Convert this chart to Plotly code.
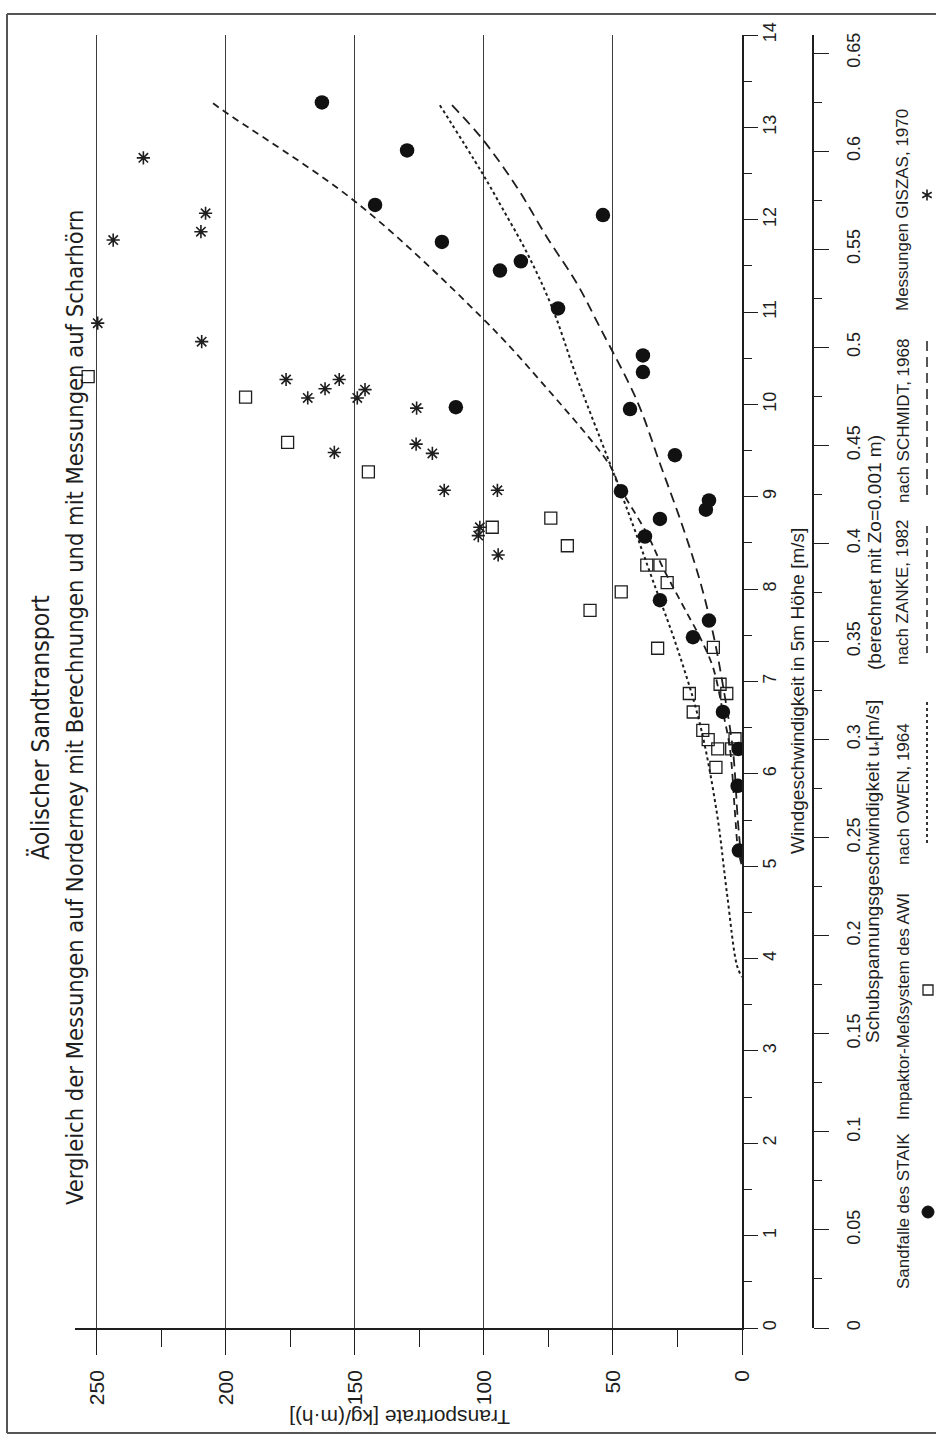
import plotly.graph_objects as go

# ---------------- data ----------------
# Sandfalle des STAIK (filled circles): transport rate [kg/(m h)], wind speed [m/s]
staik_rate = [162.8, 129.8, 142.2, 53.9, 116.3, 93.8, 85.7, 71.3, 38.4, 38.4, 110.9, 43.4, 26.0,
              46.9, 12.8, 14.0, 31.8, 37.6, 31.8, 12.8, 19.0, 7.4, 1.3, 1.7, 1.2]
staik_wind = [13.27, 12.75, 12.16, 12.05, 11.76, 11.45, 11.55, 11.04, 10.53, 10.35, 9.97, 9.95, 9.45,
              9.06, 8.96, 8.86, 8.76, 8.57, 7.88, 7.66, 7.48, 6.67, 6.27, 5.87, 5.17]

# Impaktor-Messsystem des AWI (open squares)
awi_rate = [253.4, 192.4, 176.1, 144.8, 96.8, 74.1, 67.7, 58.9, 46.8, 36.9, 31.8, 29.0, 32.7, 11.1,
            8.5, 5.9, 20.4, 18.9, 15.2, 13.1, 9.4, 4.0, 2.7, 10.1]
awi_wind = [10.30, 10.08, 9.59, 9.27, 8.67, 8.77, 8.47, 7.77, 7.97, 8.26, 8.26, 8.07, 7.36, 7.37,
            6.97, 6.87, 6.87, 6.67, 6.47, 6.37, 6.27, 6.27, 6.38, 6.07]

# Messungen GISZAS 1970 (asterisks)
gis_rate = [232.0, 243.7, 207.9, 209.7, 249.7, 209.4, 176.7, 168.3, 161.6, 156.1, 149.1, 146.1,
            126.1, 126.3, 158.0, 120.0, 115.4, 94.8, 101.6, 102.2, 94.5]
gis_wind = [12.67, 11.78, 12.07, 11.87, 10.88, 10.68, 10.27, 10.07, 10.17, 10.27, 10.07, 10.16,
            9.96, 9.57, 9.48, 9.47, 9.07, 9.07, 8.67, 8.58, 8.37]

# Calculated curves
owen_rate = [117.1, 100.8, 93.0, 83.3, 73.6, 64.0, 51.2, 42.2, 34.5, 25.2, 16.3, 9.7, 5.8, 1.9, 0.0]
owen_wind = [13.24, 12.51, 12.13, 11.64, 11.05, 10.29, 9.36, 8.69, 8.09, 7.37, 6.54, 5.57, 4.70, 3.92, 3.80]

zanke_rate = [205.0, 200.0, 149.6, 100.8, 78.3, 51.2, 47.3, 36.8, 30.6, 21.3, 16.3, 11.2, 7.4, 4.7, 2.7, 1.6, 0.0]
zanke_wind = [13.26, 13.16, 12.19, 10.94, 10.26, 9.34, 9.10, 8.60, 8.23, 7.74, 7.48, 7.15, 6.67, 6.28, 5.57, 5.20, 5.00]

schmidt_rate = [112.4, 100.8, 87.2, 75.6, 64.0, 55.0, 40.7, 31.8, 22.9, 16.3, 11.2, 7.4, 3.5, 1.6, 0.0]
schmidt_wind = [13.24, 12.88, 12.35, 11.81, 11.31, 10.83, 10.04, 9.36, 8.67, 8.09, 7.52, 6.96, 6.25, 5.49, 5.00]

# Axis ticks
rate_ticks = [0, 50, 100, 150, 200, 250]
wind_ticks = list(range(0, 15))
ustar_ticks = [0, 0.05, 0.1, 0.15, 0.2, 0.25, 0.3, 0.35, 0.4, 0.45, 0.5, 0.55, 0.6, 0.65]

# Texts
title1 = "Äolischer Sandtransport"
title2 = "Vergleich der Messungen auf Norderney mit Berechnungen und mit Messungen auf Scharhörn"
rate_title = "Transportrate [kg/(m·h)]"
wind_title = "Windgeschwindigkeit in 5m Höhe [m/s]"
ustar_title = "Schubspannungsgeschwindigkeit u<sub>*</sub>[m/s]"
ustar_note = "(berechnet mit Zo=0.001 m)"
legend_labels = ["Sandfalle des STAIK", "Impaktor-Meßsystem des AWI", "nach OWEN, 1964",
                 "nach ZANKE, 1982", "nach SCHMIDT, 1968", "Messungen GISZAS, 1970"]

# ---------------- layout geometry ----------------
W, H = 936, 1439
ML, MR, MT, MB = 75, 10, 35, 111
PW = W - ML - MR
PH = H - MT - MB


def px(x):
    return (x - ML) / PW


def py(y):
    return (H - MB - y) / PH


INK = "#1e1e1e"
GRID = "#3c3c3c"
FONT = "Liberation Sans, Arial, sans-serif"
TFONT = "Liberation Sans Narrow, DejaVu Sans Condensed, Liberation Sans, sans-serif"

fig = go.Figure()

fig.add_trace(go.Scatter(x=owen_rate, y=owen_wind, mode="lines", line_shape="spline",
                         line=dict(color=INK, width=2, dash="dot"), showlegend=False))
fig.add_trace(go.Scatter(x=zanke_rate, y=zanke_wind, mode="lines", line_shape="spline",
                         line=dict(color=INK, width=1.8, dash="7px,5px"), showlegend=False))
fig.add_trace(go.Scatter(x=schmidt_rate, y=schmidt_wind, mode="lines", line_shape="spline",
                         line=dict(color=INK, width=1.8, dash="10px,6px"), showlegend=False))
fig.add_trace(go.Scatter(x=awi_rate, y=awi_wind, mode="markers",
                         marker=dict(symbol="square-open", size=12, color=INK, line=dict(width=1.3, color=INK)),
                         showlegend=False))
fig.add_trace(go.Scatter(x=gis_rate, y=gis_wind, mode="markers",
                         marker=dict(symbol="asterisk-open", size=11, color=INK, line=dict(width=1.6, color=INK)),
                         showlegend=False))
fig.add_trace(go.Scatter(x=staik_rate, y=staik_wind, mode="markers",
                         marker=dict(symbol="circle", size=14.5, color="#111111"),
                         showlegend=False))
# empty trace so that the secondary (u*) axis is drawn
fig.add_trace(go.Scatter(x=[None], y=[None], yaxis="y2", mode="markers", showlegend=False,
                         hoverinfo="skip"))

fig.update_layout(
    width=W, height=H, template="none",
    paper_bgcolor="white", plot_bgcolor="white",
    margin=dict(l=ML, r=MR, t=MT, b=MB, autoexpand=False),
    showlegend=False,
    xaxis=dict(
        domain=[0, px(742)], range=[258.5, 0], automargin=False,
        tickvals=rate_ticks, ticktext=[str(v) for v in rate_ticks],
        showgrid=True, gridcolor=GRID, gridwidth=1.2, zeroline=False,
        showline=True, linecolor=INK, linewidth=1.5,
        ticks="outside", ticklen=25, tickcolor=INK, tickwidth=1.2,
        minor=dict(ticks="outside", ticklen=17, dtick=25, tick0=0, tickcolor=INK, tickwidth=1.2, showgrid=False),
        tickangle=-90, ticklabelstandoff=7,
        tickfont=dict(family=FONT, size=21, color=INK),
    ),
    yaxis=dict(
        domain=[0, 1], range=[0, 14], side="right", anchor="x", automargin=False,
        tickvals=wind_ticks, ticktext=[str(v) for v in wind_ticks],
        showgrid=False, zeroline=False,
        showline=True, linecolor=INK, linewidth=1.5,
        ticks="outside", ticklen=14, tickcolor=INK, tickwidth=1.3,
        minor=dict(ticks="outside", ticklen=8, dtick=0.5, tick0=0, tickcolor=INK, tickwidth=1.2),
        tickangle=-90, ticklabelstandoff=-3,
        tickfont=dict(family=FONT, size=18, color=INK),
    ),
    yaxis2=dict(
        overlaying="y", anchor="free", position=px(813), side="right", automargin=False,
        range=[0, 1293 / (1275 / 0.65)],
        tickvals=ustar_ticks, ticktext=[("%g" % v) for v in ustar_ticks],
        showgrid=False, zeroline=False,
        showline=True, linecolor=INK, linewidth=1.5,
        ticks="outside", ticklen=15, tickcolor=INK, tickwidth=1.3,
        minor=dict(ticks="outside", ticklen=8, dtick=0.025, tick0=0, tickcolor=INK, tickwidth=1.2),
        tickangle=-90, ticklabelstandoff=10,
        tickfont=dict(family=FONT, size=18, color=INK),
    ),
)

ann = []


def add_text(text, x, y, size, angle=-90, family=FONT):
    ann.append(dict(text=text, x=px(x), y=py(y), xref="paper", yref="paper",
                    showarrow=False, textangle=angle, xanchor="center", yanchor="middle",
                    font=dict(family=family, size=size, color=INK)))


add_text(title1, 40, 728, 24.5, family=TFONT)
add_text(title2, 75, 708, 23.5, family=TFONT)
add_text(rate_title, 400, 1418, 21, angle=180)
add_text(wind_title, 797, 691, 19)
add_text(ustar_title, 874, 872, 19)
add_text(ustar_note, 874, 553, 19)

legend_centers = [1211, 1007, 794, 592, 421, 210]
for lab, yc in zip(legend_labels, legend_centers):
    add_text(lab, 903, yc, 17)

fig.update_layout(annotations=ann)

shapes = []
# legend symbols
shapes.append(dict(type="circle", xref="paper", yref="paper", x0=px(922), x1=px(934),
                   y0=py(1218), y1=py(1206), fillcolor="#111111", line=dict(color="#111111", width=1)))
shapes.append(dict(type="rect", xref="paper", yref="paper", x0=px(923), x1=px(933),
                   y0=py(995), y1=py(985), line=dict(color=INK, width=1.3)))
shapes.append(dict(type="line", xref="paper", yref="paper", x0=px(927), x1=px(927),
                   y0=py(843), y1=py(700), line=dict(color=INK, width=1.8, dash="dot")))
shapes.append(dict(type="line", xref="paper", yref="paper", x0=px(927), x1=px(927),
                   y0=py(653), y1=py(523), line=dict(color=INK, width=1.5, dash="7px,5px")))
shapes.append(dict(type="line", xref="paper", yref="paper", x0=px(927), x1=px(927),
                   y0=py(495), y1=py(337), line=dict(color=INK, width=1.5, dash="10px,6px")))
sx, sy, r = 927, 195, 5.5
star_path = "M {:.5f},{:.5f} L {:.5f},{:.5f} M {:.5f},{:.5f} L {:.5f},{:.5f} M {:.5f},{:.5f} L {:.5f},{:.5f}".format(
    px(sx), py(sy - r), px(sx), py(sy + r),
    px(sx - 0.866 * r), py(sy - 0.5 * r), px(sx + 0.866 * r), py(sy + 0.5 * r),
    px(sx - 0.866 * r), py(sy + 0.5 * r), px(sx + 0.866 * r), py(sy - 0.5 * r))
shapes.append(dict(type="path", xref="paper", yref="paper", path=star_path,
                   line=dict(color=INK, width=1.6)))
# scanned page frame
shapes.append(dict(type="line", xref="paper", yref="paper", x0=px(7), x1=px(7),
                   y0=py(14), y1=py(1433), line=dict(color="#555555", width=2)))
shapes.append(dict(type="line", xref="paper", yref="paper", x0=px(7), x1=px(936),
                   y0=py(14), y1=py(14), line=dict(color="#555555", width=2)))
shapes.append(dict(type="line", xref="paper", yref="paper", x0=px(7), x1=px(936),
                   y0=py(1433), y1=py(1433), line=dict(color="#555555", width=2)))
fig.update_layout(shapes=shapes)

# remove the default page margin so the figure sits at the window's top-left corner
fig.write_html("out.html", config={"displayModeBar": False},
               post_script="document.body.style.margin='0px';")
